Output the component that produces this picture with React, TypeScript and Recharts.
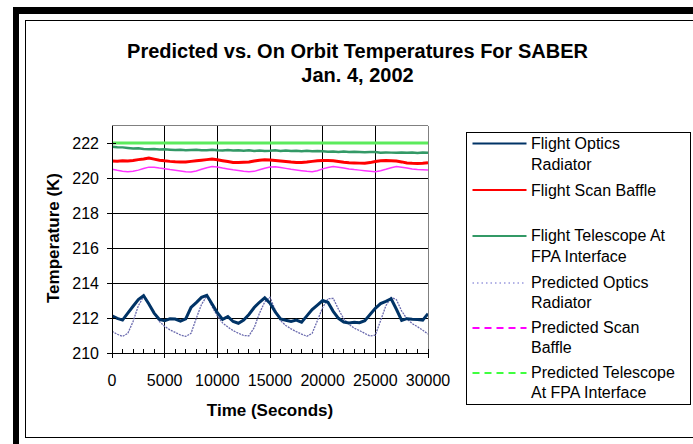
import React from 'react';
import { LineChart, Line, XAxis, YAxis, CartesianGrid, ReferenceLine, Legend } from 'recharts';

const FONT = '"Liberation Sans", Arial, Helvetica, sans-serif';

// Time (seconds)
const timeSeconds = [
  0, 500, 1000, 1500, 2000, 2500, 3000, 3500, 4000, 4500,
  5000, 5500, 6000, 6500, 7000, 7500, 8000, 8500, 9000, 9500,
  10000, 10500, 11000, 11500, 12000, 12500, 13000, 13500, 14000, 14500,
  15000, 15500, 16000, 16500, 17000, 17500, 18000, 18500, 19000, 19500,
  20000, 20500, 21000, 21500, 22000, 22500, 23000, 23500, 24000, 24500,
  25000, 25500, 26000, 26500, 27000, 27500, 28000, 28500, 29000, 29500,
  30000,
];

const flightOpticsRadiator = [
  212.13, 211.98, 211.88, 212.28, 212.67, 213.05, 213.28, 212.8, 212.28, 211.92,
  211.85, 211.95, 211.94, 211.82, 211.95, 212.6, 212.88, 213.18, 213.3, 212.8,
  212.3, 211.92, 212.08, 211.8, 211.7, 211.88, 212.2, 212.6, 212.9, 213.15,
  212.85, 212.35, 211.95, 211.87, 211.8, 211.88, 211.76, 212.12, 212.48, 212.74,
  213.0, 212.9, 212.38, 211.98, 211.77, 211.72, 211.76, 211.73, 211.85, 212.2,
  212.55, 212.82, 212.95, 213.1, 212.5, 211.86, 211.96, 211.93, 211.92, 211.88,
  212.25,
];

const predictedOpticsRadiator = [
  211.24, 211.07, 210.95, 211.12, 211.8, 212.7, 213.22, 212.85, 212.25, 211.8,
  211.52, 211.32, 211.18, 211.03, 210.95, 211.12, 211.98, 212.78, 213.26, 212.65,
  212.12, 211.72, 211.48, 211.28, 211.13, 211.0, 210.98, 211.45, 212.27, 212.92,
  213.18, 212.45, 211.85, 211.57, 211.38, 211.22, 211.08, 210.96, 211.12, 211.85,
  212.6, 213.1, 213.12, 212.5, 211.95, 211.64, 211.42, 211.28, 211.12, 210.97,
  211.02, 211.85, 212.7, 213.18, 213.05, 212.4, 211.95, 211.68, 211.5, 211.3,
  211.08,
];

const flightTelescopeFPA = [
  221.78, 221.76, 221.75, 221.72, 221.69, 221.7, 221.66, 221.65, 221.66, 221.63,
  221.64, 221.62, 221.6, 221.62, 221.59, 221.6, 221.61, 221.58, 221.59, 221.61,
  221.58, 221.57, 221.6, 221.57, 221.59, 221.56, 221.58, 221.55, 221.57, 221.55,
  221.56, 221.58, 221.55, 221.57, 221.54, 221.56, 221.53, 221.55, 221.53, 221.54,
  221.53, 221.5, 221.52, 221.49, 221.51, 221.48, 221.5, 221.49, 221.47, 221.49,
  221.48, 221.45, 221.46, 221.45, 221.44, 221.46, 221.44, 221.45, 221.43, 221.45,
  221.44,
];

const flightScanBaffle = [
  220.97, 220.96, 220.98, 220.97, 221.0, 221.05, 221.09, 221.14, 221.08, 221.02,
  220.98, 220.95, 220.93, 220.92, 220.91, 220.95, 220.99, 221.02, 221.05, 221.08,
  221.04, 220.99, 220.94, 220.89, 220.88, 220.9, 220.92, 220.97, 221.02, 221.04,
  221.03, 221.0, 220.97, 220.94, 220.91, 220.89, 220.88, 220.91, 220.95, 220.98,
  221.0, 221.0, 220.98, 220.94, 220.9, 220.87, 220.86, 220.85, 220.84, 220.88,
  220.94, 220.99, 221.0, 220.99, 220.97, 220.92, 220.86, 220.84, 220.83, 220.84,
  220.87,
];

const predictedScanBaffle = [
  220.5, 220.44, 220.39, 220.36, 220.38, 220.45, 220.54, 220.62, 220.62, 220.57,
  220.53, 220.48, 220.44, 220.4, 220.36, 220.34, 220.4, 220.5, 220.59, 220.65,
  220.63, 220.57, 220.52, 220.47, 220.43, 220.39, 220.36, 220.38, 220.47, 220.56,
  220.63, 220.64, 220.6, 220.55, 220.5, 220.46, 220.42, 220.38, 220.36, 220.42,
  220.52, 220.6, 220.65, 220.62, 220.57, 220.52, 220.48, 220.45, 220.42, 220.39,
  220.36, 220.42, 220.5, 220.59, 220.65, 220.62, 220.57, 220.52, 220.49, 220.47,
  220.45,
];

const predictedTelescopeTime = [0, 10000, 20000, 30000];
const predictedTelescopeFPA = [222.0, 222.0, 222.0, 222.0];

const xTicks = [
  0, 1000, 2000, 3000, 4000, 5000, 6000, 7000, 8000, 9000, 10000,
  11000, 12000, 13000, 14000, 15000, 16000, 17000, 18000, 19000, 20000,
  21000, 22000, 23000, 24000, 25000, 26000, 27000, 28000, 29000, 30000,
];
const xMajorTicks = [0, 5000, 10000, 15000, 20000, 25000, 30000];
const yTicks = [210, 212, 214, 216, 218, 220, 222];

const seriesNames = [
  'Flight Optics Radiator',
  'Flight Scan Baffle',
  'Flight Telescope At FPA Interface',
  'Predicted Optics Radiator',
  'Predicted Scan Baffle',
  'Predicted Telescope At FPA Interface',
];

const data = timeSeconds.map((t, i) => ({
  t,
  fOR: flightOpticsRadiator[i],
  pOR: predictedOpticsRadiator[i],
  fTel: flightTelescopeFPA[i],
  fSB: flightScanBaffle[i],
  pSB: predictedScanBaffle[i],
}));

const ptData = predictedTelescopeTime.map((t, i) => ({ t, pTel: predictedTelescopeFPA[i] }));

const XTick = (props: any) => {
  const { x, y, payload } = props;
  const v = payload.value;
  const major = xMajorTicks.indexOf(v) >= 0;
  return (
    <g>
      <line x1={x} x2={x} y1={y - 4} y2={major ? y + 5 : y} stroke="#000" shapeRendering="crispEdges" />
      {major && (
        <text x={x} y={y + 33} textAnchor="middle" fontSize={16} fill="#000" fontFamily={FONT}>
          {v}
        </text>
      )}
    </g>
  );
};

const YTick = (props: any) => {
  const { x, y, payload } = props;
  return (
    <g>
      <line x1={x - 5} x2={x + 4} y1={y} y2={y} stroke="#000" shapeRendering="crispEdges" />
      <text x={x - 13} y={y + 6} textAnchor="end" fontSize={16} fill="#000" fontFamily={FONT}>
        {payload.value}
      </text>
    </g>
  );
};

const legendLayout = [
  { lines: ['Flight Optics', 'Radiator'], color: '#003366', dash: undefined, w: 2, sy: 11.5, ty: [17, 38] },
  { lines: ['Flight Scan Baffle'], color: '#FF0000', dash: undefined, w: 2, sy: 58, ty: [64] },
  { lines: ['Flight Telescope At', 'FPA Interface'], color: '#339966', dash: undefined, w: 2, sy: 104, ty: [109, 130] },
  { lines: ['Predicted Optics', 'Radiator'], color: '#6666CC', dash: '1.5 3', w: 1, sy: 151, ty: [155.5, 176] },
  { lines: ['Predicted Scan', 'Baffle'], color: '#FF00FF', dash: '7 5', w: 2, sy: 196, ty: [200.5, 221] },
  { lines: ['Predicted Telescope', 'At FPA Interface'], color: '#00FF00', dash: '7 5', w: 1.5, sy: 241, ty: [245.5, 266] },
];

const LegendBox = () => (
  <div
    style={{
      width: 225,
      height: 273,
      boxSizing: 'border-box',
      border: '1px solid #000',
      background: '#fff',
    }}
  >
    <svg width={223} height={271} style={{ display: 'block', marginLeft: -1, marginTop: -1, overflow: 'visible' }}>
      {legendLayout.map((it, i) => (
        <g key={i}>
          <line
            x1={6.5}
            x2={60.5}
            y1={it.sy}
            y2={it.sy}
            stroke={it.color}
            strokeWidth={it.w}
            strokeDasharray={it.dash}
          />
          {it.lines.map((ln, j) => (
            <text key={j} x={65} y={it.ty[j]} fontSize={16} fill="#000" fontFamily={FONT}>
              {ln}
            </text>
          ))}
        </g>
      ))}
    </svg>
  </div>
);

export default function App() {
  return (
    <div
      style={{
        position: 'absolute',
        left: 0,
        top: 0,
        width: 693,
        height: 444,
        overflow: 'hidden',
        background: '#fff',
        fontFamily: FONT,
      }}
    >
      {/* outer thick frame */}
      <div style={{ position: 'absolute', left: 13, top: 7, width: 700, height: 7, background: '#000' }} />
      <div style={{ position: 'absolute', left: 13, top: 7, width: 6, height: 460, background: '#000' }} />
      {/* inner thin frame */}
      <div
        style={{
          position: 'absolute',
          left: 25,
          top: 20,
          width: 700,
          height: 418,
          boxSizing: 'border-box',
          border: '1px solid #000',
        }}
      />
      <div style={{ position: 'absolute', left: 0, top: 0 }}>
        <LineChart
          width={693}
          height={444}
          data={data}
          margin={{ top: 125.5, right: 265, bottom: 90, left: 111 }}
        >
          <CartesianGrid vertical={false} stroke="#000" shapeRendering="crispEdges" />
          {xMajorTicks.slice(1, 6).map((v) => (
            <ReferenceLine key={v} x={v} stroke="#000" shapeRendering="crispEdges" />
          ))}
          <ReferenceLine y={223} stroke="#808080" shapeRendering="crispEdges" />
          <ReferenceLine x={30000} stroke="#808080" shapeRendering="crispEdges" />
          <XAxis
            dataKey="t"
            type="number"
            domain={[0, 30000]}
            ticks={xTicks}
            interval={0}
            height={1}
            tickSize={0}
            tickMargin={0}
            tick={<XTick />}
            axisLine={{ stroke: '#000', shapeRendering: 'crispEdges' }}
            allowDataOverflow
          />
          <YAxis
            type="number"
            domain={[210, 223]}
            ticks={yTicks}
            interval={0}
            width={1}
            tickSize={0}
            tickMargin={0}
            tick={<YTick />}
            axisLine={{ stroke: '#000', shapeRendering: 'crispEdges' }}
            allowDataOverflow
          />
          <Legend
            layout="horizontal"
            verticalAlign="middle"
            align="center"
            content={() => <LegendBox />}
            wrapperStyle={{ position: 'absolute', left: 466, top: 132, width: 225, height: 273 }}
          />
          <Line
            data={ptData}
            dataKey="pTel"
            name={seriesNames[5]}
            stroke="#5CEB5C"
            strokeWidth={3}
            dot={false}
            isAnimationActive={false}
          />
          <Line
            dataKey="pOR"
            name={seriesNames[3]}
            stroke="#6A6AAE"
            strokeWidth={1.3}
            strokeDasharray="2 1"
            dot={false}
            isAnimationActive={false}
          />
          <Line
            dataKey="pSB"
            name={seriesNames[4]}
            stroke="#FF33FF"
            strokeWidth={1.5}
            dot={false}
            isAnimationActive={false}
          />
          <Line
            dataKey="fTel"
            name={seriesNames[2]}
            stroke="#339966"
            strokeWidth={2.5}
            dot={false}
            isAnimationActive={false}
          />
          <Line
            dataKey="fSB"
            name={seriesNames[1]}
            stroke="#FF0000"
            strokeWidth={3}
            dot={false}
            isAnimationActive={false}
          />
          <Line
            dataKey="fOR"
            name={seriesNames[0]}
            stroke="#003366"
            strokeWidth={3}
            dot={false}
            isAnimationActive={false}
          />
        </LineChart>
      </div>
      {/* titles */}
      <svg
        width={693}
        height={444}
        style={{ position: 'absolute', left: 0, top: 0, pointerEvents: 'none' }}
      >
        <text x={357.5} y={57.5} textAnchor="middle" fontSize={20} fontWeight="bold" fill="#000" fontFamily={FONT}>
          Predicted vs. On Orbit Temperatures For SABER
        </text>
        <text x={357.5} y={81.5} textAnchor="middle" fontSize={20} fontWeight="bold" fill="#000" fontFamily={FONT}>
          Jan. 4, 2002
        </text>
        <text x={270} y={416} textAnchor="middle" fontSize={17} fontWeight="bold" fill="#000" fontFamily={FONT}>
          Time (Seconds)
        </text>
        <text
          x={0}
          y={0}
          transform="translate(59,238) rotate(-90)"
          textAnchor="middle"
          fontSize={17}
          fontWeight="bold"
          fill="#000"
          fontFamily={FONT}
        >
          Temperature (K)
        </text>
      </svg>
    </div>
  );
}
